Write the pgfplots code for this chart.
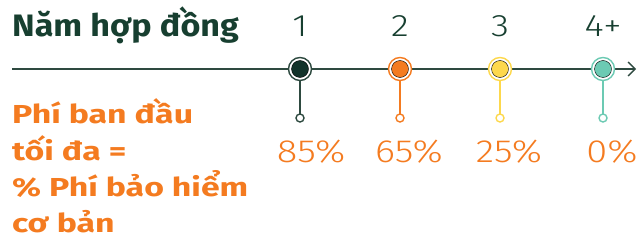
\documentclass[border=0pt]{standalone}
\usepackage{fontspec}
\setmainfont{Fira Sans}
\newfontfamily\lightfont[FakeStretch=1.19]{Fira Sans Light}
\newfontfamily\titlefont[FakeStretch=1.10]{Fira Sans}
\newfontfamily\orfont[FakeStretch=1.30]{Fira Sans}
\usepackage{pgfplots}
\pgfplotsset{compat=1.18}
\usetikzlibrary{arrows.meta}
\definecolor{dkgreen}{HTML}{173F30}
\definecolor{linegreen}{HTML}{2E4A40}
\definecolor{dot1}{HTML}{12332A}
\definecolor{orng}{HTML}{F47B20}
\definecolor{yell}{HTML}{FDD84C}
\definecolor{teal}{HTML}{6CCAB3}
\begin{document}
\begin{tikzpicture}
\begin{axis}[width=639pt,height=244pt,scale only axis,
  xmin=0,xmax=639,ymin=0,ymax=244,hide axis,clip=false]
% main line
\addplot[linegreen,line width=1.4pt,-{Straight Barb[length=7pt,width=14pt,line width=1.4pt]}] coordinates {(12,175) (636,175)};
% stems
\addplot[linegreen,line width=1.3pt] coordinates {(300,175) (300,130)};
\addplot[orng,line width=1.3pt] coordinates {(400,175) (400,130)};
\addplot[yell,line width=1.3pt] coordinates {(500,175) (500,130)};
\addplot[teal,line width=1.3pt] coordinates {(603,175) (603,130)};
% small circles
\addplot[only marks,mark=*,mark size=4pt,mark options={fill=white,draw=linegreen,line width=1.4pt}] coordinates {(300,126)};
\addplot[only marks,mark=*,mark size=4pt,mark options={fill=white,draw=orng,line width=1.4pt}] coordinates {(400,126)};
\addplot[only marks,mark=*,mark size=4pt,mark options={fill=white,draw=yell,line width=1.4pt}] coordinates {(500,126)};
\addplot[only marks,mark=*,mark size=4pt,mark options={fill=white,draw=teal,line width=1.4pt}] coordinates {(603,126)};
% big dots
\addplot[only marks,mark=*,mark size=11.5pt,mark options={fill=white,draw=linegreen,line width=1.4pt}] coordinates {(300,175)};
\addplot[only marks,mark=*,mark size=8.5pt,mark options={fill=dot1,draw=none}] coordinates {(300,175)};
\addplot[only marks,mark=*,mark size=11.5pt,mark options={fill=white,draw=orng,line width=1.4pt}] coordinates {(400,175)};
\addplot[only marks,mark=*,mark size=8.5pt,mark options={fill=orng,draw=none}] coordinates {(400,175)};
\addplot[only marks,mark=*,mark size=11.5pt,mark options={fill=white,draw=yell,line width=1.4pt}] coordinates {(500,175)};
\addplot[only marks,mark=*,mark size=8.5pt,mark options={fill=yell,draw=none}] coordinates {(500,175)};
\addplot[only marks,mark=*,mark size=11.5pt,mark options={fill=white,draw=teal,line width=1.4pt}] coordinates {(603,175)};
\addplot[only marks,mark=*,mark size=8.5pt,mark options={fill=teal,draw=none}] coordinates {(603,175)};
% title
\node[anchor=base west,inner sep=0pt,text=dkgreen,font=\fontsize{31}{31}\titlefont\bfseries] at (axis cs:12,207) {Năm hợp đồng};
% years
\foreach \xx/\lab in {300/1,400/2,500/3,603/4+}{
  \edef\tmp{\noexpand\node[anchor=base,inner sep=0pt,text=dkgreen,font=\noexpand\fontsize{31}{31}\noexpand\lightfont] at (axis cs:\xx,207) {\lab};}\tmp
}
% percentages
\node[anchor=base,inner sep=0pt,text=orng,font=\fontsize{32}{32}\lightfont] at (axis cs:311,82) {85\%};
\node[anchor=base,inner sep=0pt,text=orng,font=\fontsize{32}{32}\lightfont] at (axis cs:409,82) {65\%};
\node[anchor=base,inner sep=0pt,text=orng,font=\fontsize{32}{32}\lightfont] at (axis cs:509,82) {25\%};
\node[anchor=base,inner sep=0pt,text=orng,font=\fontsize{32}{32}\lightfont] at (axis cs:612,82) {0\%};
% left orange text
\node[anchor=base west,inner sep=0pt,text=orng,font=\fontsize{26}{26}\orfont\bfseries] at (axis cs:12,121) {Phí ban đầu};
\node[anchor=base west,inner sep=0pt,text=orng,font=\fontsize{26}{26}\orfont\bfseries] at (axis cs:12,84) {tối đa =};
\node[anchor=base west,inner sep=0pt,text=orng,font=\fontsize{26}{26}\orfont\bfseries] at (axis cs:12,48) {\% Phí bảo hiểm};
\node[anchor=base west,inner sep=0pt,text=orng,font=\fontsize{26}{26}\orfont\bfseries] at (axis cs:12,12) {cơ bản};
\end{axis}
\pgfresetboundingbox
\path[use as bounding box] (current axis.south west) rectangle (current axis.north east);
\end{tikzpicture}
\end{document}
